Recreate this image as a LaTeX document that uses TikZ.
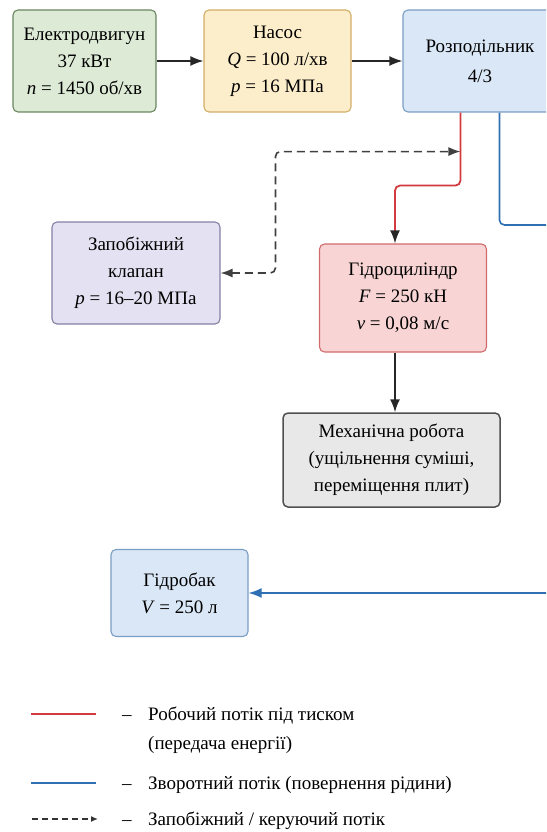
\documentclass[tikz,border=0pt]{standalone}
\usepackage{fontspec}
\setmainfont{Liberation Serif}
\newfontfamily\diagfont{Liberation Serif}
\usepackage{xcolor}
\usepackage{tikz}
\usetikzlibrary{calc, positioning, arrows.meta}

\definecolor{motorfill}{HTML}{DDEBD6}
\definecolor{motordraw}{HTML}{6A8760}
\definecolor{pumpfill}{HTML}{FCEDCB}
\definecolor{pumpdraw}{HTML}{D4AE66}
\definecolor{distfill}{HTML}{D9E7F6}
\definecolor{distdraw}{HTML}{7A9EC4}
\definecolor{valvefill}{HTML}{E4E1F2}
\definecolor{valvedraw}{HTML}{857FA6}
\definecolor{cylfill}{HTML}{F8D4D4}
\definecolor{cyldraw}{HTML}{D06C6C}
\definecolor{mechfill}{HTML}{E8E8E8}
\definecolor{mechdraw}{HTML}{505050}
\definecolor{redline}{HTML}{D23A3F}
\definecolor{blueline}{HTML}{2F6FB3}

\begin{document}
\begin{tikzpicture}[x=1pt,y=-1pt,
                    font=\diagfont\fontsize{19}{27}\selectfont,
                    main node/.style={rectangle,rounded corners=5pt,line width=1.1pt,align=center,inner sep=2pt},
                    main arrow/.style={-{Latex[length=13pt,width=10pt]},line width=1.6pt,black!85},
                    red flow/.style={-{Latex[length=13pt,width=10pt,black!85]},line width=1.8pt,redline,rounded corners=5pt},
                    blue flow/.style={line width=1.6pt,blueline,rounded corners=5pt},
                    ctrl flow/.style={{Latex[length=12pt,width=9pt]}-{Latex[length=12pt,width=9pt]},line width=1.6pt,black!75,dash pattern=on 8pt off 5pt,rounded corners=5pt}]

  \clip (0,0) rectangle (546,832);

  \node[main node,fill=motorfill,draw=motordraw,minimum width=143pt,minimum height=102pt] (1) at (84.5,61) {Електродвигун\\37 кВт\\\textit{n} = 1450 об/хв};
  \node[main node,fill=pumpfill,draw=pumpdraw,minimum width=147pt,minimum height=102pt] (2) at (277.5,61) {Насос\\\textit{Q} = 100 л/хв\\\textit{p} = 16 МПа};
  \node[main node,fill=distfill,draw=distdraw,minimum width=154pt,minimum height=102pt] (3) at (480,61) {Розподільник\\[3pt]4/3};
  \node[main node,fill=valvefill,draw=valvedraw,minimum width=168pt,minimum height=102pt] (4) at (136,273) {Запобіжний\\клапан\\\textit{p} = 16–20 МПа};
  \node[main node,fill=cylfill,draw=cyldraw,minimum width=167pt,minimum height=108pt] (5) at (403,298) {Гідроциліндр\\\textit{F} = 250 кН\\\textit{v} = 0,08 м/с};
  \node[main node,fill=mechfill,draw=mechdraw,line width=1.5pt,minimum width=217pt,minimum height=94pt] (6) at (391.5,460) {Механічна робота\\(ущільнення суміші,\\переміщення плит)};
  \node[main node,fill=distfill,draw=distdraw,minimum width=137pt,minimum height=87pt] (7) at (179.5,593) {Гідробак\\\textit{V} = 250 л};

  % outlets of the distributor
  \coordinate (red out) at ([xshift=58pt]3.south west);
  \coordinate (blue out) at ([xshift=97pt]3.south west);
  \coordinate (tap) at ($(red out)+(0,39)$);
  \coordinate (blue end) at (560,225);
  \coordinate (blue start) at (560,593);

  \draw[main arrow] (1) -- (2);
  \draw[main arrow] (2) -- (3);
  \draw[red flow] (red out) -- ++(0,73) -| ([xshift=-8pt]5.north);
  \draw[blue flow] (blue out) |- (blue end);
  \draw[ctrl flow] (4.east) -| ($(tap)+(-185,0)$) -- (tap);
  \draw[main arrow] ([xshift=-8pt]5.south) -- ([xshift=3.5pt]6.north);
  \draw[blue flow,-{Latex[length=13pt,width=10pt]}] (blue start) -- (7.east);

  % legend
  \coordinate (l1a) at (31,714);  \coordinate (l1b) at (96,714);
  \coordinate (l2a) at (31,783);  \coordinate (l2b) at (96,783);
  \coordinate (l3a) at (32,819);  \coordinate (l3b) at (98,819);
  \draw[redline,line width=1.4pt] (l1a) -- (l1b);
  \draw[blueline,line width=1.8pt] (l2a) -- (l2b);
  \draw[black!80,line width=1.6pt,dash pattern=on 6pt off 4pt,-{Latex[length=7pt,width=6pt]}] (l3a) -- (l3b);

  \node[anchor=base west,inner sep=0pt] (d1) at (122,720) {–};
  \node[anchor=base west,inner sep=0pt] (t1) at (148,720) {Робочий потік під тиском};
  \node[anchor=base west,inner sep=0pt] (t1b) at (148,749) {(передача енергії)};
  \node[anchor=base west,inner sep=0pt] (d2) at (122,789) {–};
  \node[anchor=base west,inner sep=0pt] (t2) at (148,789) {Зворотний потік (повернення рідини)};
  \node[anchor=base west,inner sep=0pt] (d3) at (122,825) {–};
  \node[anchor=base west,inner sep=0pt] (t3) at (148,825) {Запобіжний / керуючий потік};

\end{tikzpicture}
\end{document}
